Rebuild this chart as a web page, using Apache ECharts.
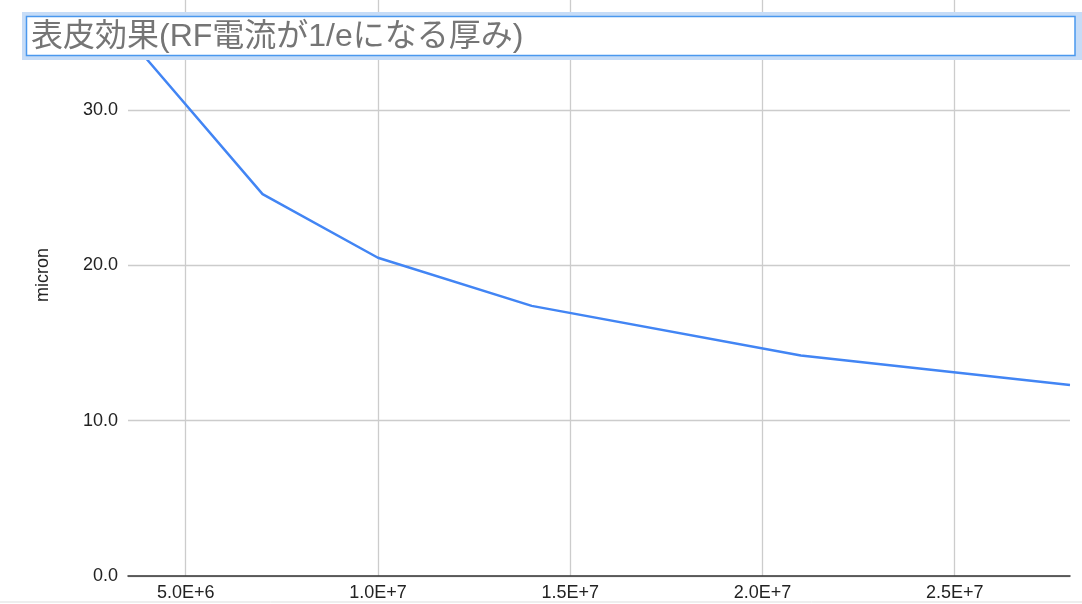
<!DOCTYPE html>
<html>
<head>
<meta charset="utf-8">
<script src="https://cdn.jsdelivr.net/npm/echarts@6/dist/echarts.min.js"></script>
<style>
  html, body { margin: 0; padding: 0; background: #fff; }
  #chart { width: 1082px; height: 604px; }
</style>
</head>
<body>
<div id="chart"></div>
<script>
// 周波数 (Hz)
const freqs = [3.5e6, 7e6, 1e7, 1.4e7, 2.1e7, 2.8e7];
// 表皮深さ (micron)
const depth = [34.7, 24.6, 20.5, 17.4, 14.2, 12.3];
const yTicks = [0, 10, 20, 30];

const titleText = '表皮効果(RF電流が1/eになる厚み)';
const font = "'Liberation Sans', Arial, 'Noto Sans CJK JP', sans-serif";

let myChart = echarts.init(document.getElementById('chart'));

let points = [];
freqs.forEach((f, i) => {
  points.push([f, depth[i]]);
});

let option = {
  backgroundColor: '#fff',
  animation: false,
  grid: {
    left: 128,
    right: 12,
    top: 0,
    bottom: 28
  },
  xAxis: {
    type: 'value',
    min: 3.5e6,
    max: 2.8e7,
    minInterval: 5e6,
    maxInterval: 5e6,
    axisLine: {show: true, onZero: false, lineStyle: {color: '#333', width: 1.5}},
    axisTick: {show: false},
    axisLabel: {
      showMinLabel: false,
      showMaxLabel: false,
      margin: 8,
      color: '#222',
      fontSize: 18,
      fontFamily: font,
      formatter: v => v.toExponential(1).replace('e', 'E')
    },
    splitLine: {
      show: true,
      showMinLine: false,
      showMaxLine: false,
      lineStyle: {color: '#cccccc', width: 1.3}
    }
  },
  yAxis: {
    type: 'value',
    min: yTicks[0],
    max: 37.1,
    interval: 10,
    axisLine: {show: false},
    axisTick: {show: false},
    axisLabel: {
      showMaxLabel: false,
      margin: 10,
      color: '#222',
      fontSize: 18,
      fontFamily: font,
      formatter: v => (yTicks.indexOf(v) >= 0 ? v.toFixed(1) : '')
    },
    splitLine: {
      showMaxLine: false,
      lineStyle: {color: '#cccccc', width: 1.3}
    }
  },
  series: [{
    type: 'line',
    data: points,
    showSymbol: false,
    lineStyle: {color: '#4285f4', width: 2.5},
    z: 3
  }],
  graphic: [
    {
      type: 'text',
      x: 43,
      y: 275,
      rotation: Math.PI / 2,
      style: {
        text: 'micron',
        fill: '#222',
        font: '18px ' + font,
        textAlign: 'center',
        textVerticalAlign: 'middle'
      },
      z: 100
    },
    {
      type: 'line',
      shape: {x1: 0, y1: 602, x2: 1082, y2: 602},
      style: {stroke: '#dddddd', lineWidth: 1},
      z: 100
    },
    {
      type: 'rect',
      shape: {x: 22, y: 12, width: 1070, height: 48},
      style: {fill: '#c6dcf7'},
      z: 100
    },
    {
      type: 'rect',
      shape: {x: 26.5, y: 16.5, width: 1048.5, height: 39},
      style: {fill: '#fff', stroke: '#4a98ee', lineWidth: 1.5},
      z: 101
    },
    {
      type: 'text',
      x: 31,
      y: 37,
      style: {
        text: titleText,
        fill: '#757575',
        font: '32px ' + font,
        textVerticalAlign: 'middle'
      },
      z: 102
    }
  ]
};
myChart.setOption(option);
</script>
</body>
</html>
